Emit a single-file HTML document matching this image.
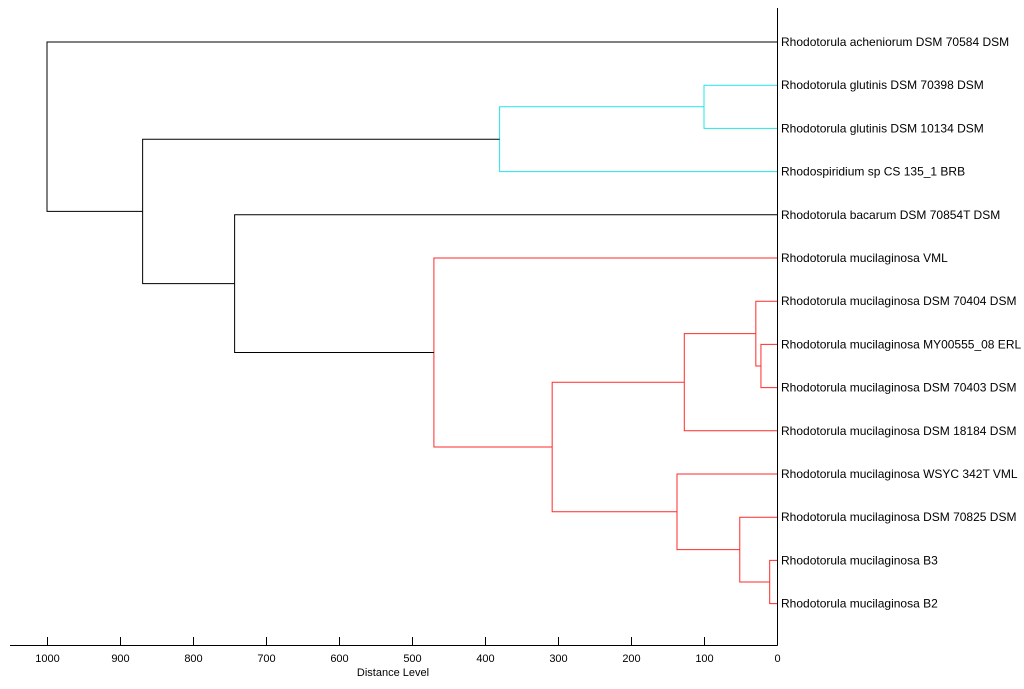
<!DOCTYPE html>
<html><head><meta charset="utf-8"><style>
body{margin:0;background:#fff;}
svg{display:block;font-family:"Liberation Sans",sans-serif;}
</style></head><body>
<svg id="chart" width="1024" height="689" viewBox="0 0 1024 689">
<g id="tree"></g>
<g id="labels"></g>
<g id="axis"></g>
<text x="393" y="676" font-size="11" text-anchor="middle" fill="#000">Distance Level</text>
</svg>
<script>
const leaves = ["Rhodotorula acheniorum DSM 70584 DSM","Rhodotorula glutinis DSM 70398 DSM","Rhodotorula glutinis DSM 10134 DSM","Rhodospiridium sp CS 135_1 BRB","Rhodotorula bacarum DSM 70854T DSM","Rhodotorula mucilaginosa VML","Rhodotorula mucilaginosa DSM 70404 DSM","Rhodotorula mucilaginosa MY00555_08 ERL","Rhodotorula mucilaginosa DSM 70403 DSM","Rhodotorula mucilaginosa DSM 18184 DSM","Rhodotorula mucilaginosa WSYC 342T VML","Rhodotorula mucilaginosa DSM 70825 DSM","Rhodotorula mucilaginosa B3","Rhodotorula mucilaginosa B2"];
// merge nodes: children are leaf indices (numbers) or earlier merge nodes ("nK")
const mergeLeft   = [1,   "n0", 7,  6,    "n3", 12, 11,   10,   "n4", 5,    4,    "n1", 0];
const mergeRight  = [2,   3,    8,  "n2", 9,    13, "n5", "n6", "n7", "n8", "n9", "n10","n11"];
const mergeHeight = [100, 380,  22, 29,   127,  10, 51,   137,  308,  470,  743,  869,  1000];
const mergeGroup  = ["c", "c",  "r","r",  "r",  "r","r",  "r",  "r",  "r",  "k",  "k",  "k"];
const ticks = [1000,900,800,700,600,500,400,300,200,100,0];
const tickLabels = ["1000","900","800","700","600","500","400","300","200","100","0"];
</script>
<script>
const NS="http://www.w3.org/2000/svg";
const X0=777, SC=0.73, Y0=42, DY=43.2;
const xs=d=>X0-d*SC, ys=i=>Y0+i*DY;
const colors={c:"#22e4ea",r:"#ff2a2a",k:"#000"};
const tree=document.getElementById('tree');
const nodes=[];
function pos(ref){
  if(typeof ref==='number') return {x:X0,y:ys(ref)};
  return nodes[parseInt(ref.slice(1))];
}
mergeHeight.forEach((h,k)=>{
  const l=pos(mergeLeft[k]), r=pos(mergeRight[k]);
  const xm=xs(h);
  const p=document.createElementNS(NS,'path');
  p.setAttribute('d',`M${l.x},${l.y}H${xm}V${r.y}H${r.x}`);
  p.setAttribute('fill','none');
  p.setAttribute('stroke',colors[mergeGroup[k]]);
  p.setAttribute('stroke-width','1');
  
  
  tree.appendChild(p);
  nodes.push({x:xm,y:(l.y+r.y)/2});
});
const lg=document.getElementById('labels');
leaves.forEach((t,i)=>{
  const e=document.createElementNS(NS,'text');
  e.setAttribute('x',781);e.setAttribute('y',ys(i)+4);
  e.setAttribute('font-size','12');e.setAttribute('fill','#000');
  e.textContent=t;
  
  
  lg.appendChild(e);
});
const ax=document.getElementById('axis');
function ln(x1,y1,x2,y2,n){const e=document.createElementNS(NS,'line');
  e.setAttribute('x1',x1);e.setAttribute('y1',y1);e.setAttribute('x2',x2);e.setAttribute('y2',y2);
  e.setAttribute('stroke','#000');e.setAttribute('stroke-width','1');
  
  
  ax.appendChild(e);}
ln(10,645.5,X0+0.5,645.5,'x-axis-line');
ln(X0+0.5,8,X0+0.5,645.5,'leaf-axis-line');
ticks.forEach((t,i)=>{
  const x=Math.round(xs(t))+0.5;
  ln(x,637,x,645.5,'x-tick');
  const e=document.createElementNS(NS,'text');
  e.setAttribute('x',x);e.setAttribute('y',662);e.setAttribute('text-anchor','middle');
  e.setAttribute('font-size','11');e.setAttribute('fill','#000');
  e.textContent=tickLabels[i];
  
  
  ax.appendChild(e);
});
</script>
</body></html>
